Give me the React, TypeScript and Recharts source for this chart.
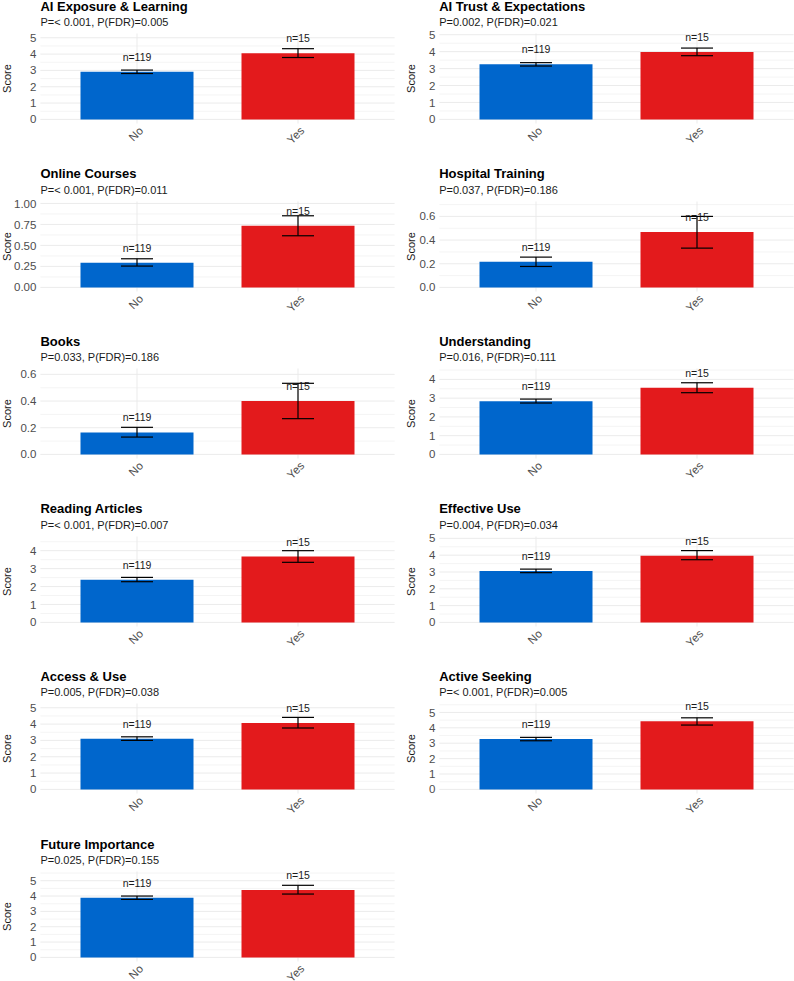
import {
  BarChart,
  Bar,
  XAxis,
  YAxis,
  CartesianGrid,
  ErrorBar,
  LabelList,
  Cell,
  Label,
} from 'recharts'

const FONT = '"Liberation Sans", Arial, Helvetica, sans-serif'

const groups = ['No', 'Yes']
const groupN = ['n=119', 'n=15']
const groupColors = ['#0066CC', '#E31A1C']

const titles = [
  'AI Exposure & Learning',
  'AI Trust & Expectations',
  'Online Courses',
  'Hospital Training',
  'Books',
  'Understanding',
  'Reading Articles',
  'Effective Use',
  'Access & Use',
  'Active Seeking',
  'Future Importance',
]

const pLabels = [
  'P=< 0.001, P(FDR)=0.005',
  'P=0.002, P(FDR)=0.021',
  'P=< 0.001, P(FDR)=0.011',
  'P=0.037, P(FDR)=0.186',
  'P=0.033, P(FDR)=0.186',
  'P=0.016, P(FDR)=0.111',
  'P=< 0.001, P(FDR)=0.007',
  'P=0.004, P(FDR)=0.034',
  'P=0.005, P(FDR)=0.038',
  'P=< 0.001, P(FDR)=0.005',
  'P=0.025, P(FDR)=0.155',
]

// group means with lower / upper ends of the error bars
const noMean = [2.92, 3.25, 0.294, 0.217, 0.165, 2.83, 2.38, 3.06, 3.1, 3.27, 3.89]
const noLow = [2.81, 3.15, 0.254, 0.177, 0.13, 2.74, 2.27, 2.96, 3.0, 3.16, 3.78]
const noHigh = [3.02, 3.35, 0.341, 0.256, 0.203, 2.95, 2.51, 3.17, 3.22, 3.38, 4.0]
const yesMean = [4.05, 3.98, 0.734, 0.468, 0.4, 3.56, 3.67, 3.97, 4.06, 4.42, 4.39]
const yesLow = [3.79, 3.76, 0.615, 0.332, 0.268, 3.29, 3.35, 3.73, 3.76, 4.18, 4.13]
const yesHigh = [4.33, 4.21, 0.853, 0.6, 0.533, 3.82, 4.0, 4.27, 4.41, 4.65, 4.7]

// axis upper limits and tick values per panel
const yMax = [5.26, 5.07, 1.023, 0.726, 0.644, 4.58, 4.79, 5.11, 5.26, 5.58, 5.6]
const intTicks = [0, 1, 2, 3, 4, 5]
const yTicks = [
  intTicks,
  intTicks,
  [0, 0.25, 0.5, 0.75, 1],
  [0, 0.2, 0.4, 0.6],
  [0, 0.2, 0.4, 0.6],
  [0, 1, 2, 3, 4],
  [0, 1, 2, 3, 4],
  intTicks,
  intTicks,
  intTicks,
  intTicks,
]
const yDecimals = [0, 0, 2, 1, 1, 0, 0, 0, 0, 0, 0]

const PANEL_W = 397
const PANEL_H = 160
const COL_X = [0, 398.8]
const ROW_STEP = 167.6

function GroupTick(props: any) {
  const { x, y, payload } = props
  const tx = x + 7
  const ty = y + 8
  return (
    <text
      x={tx}
      y={ty}
      textAnchor="end"
      transform={`rotate(-45 ${tx} ${ty})`}
      fontSize={11.5}
      fill="#4d4d4d"
      fontFamily={FONT}
    >
      {payload.value}
    </text>
  )
}

function Panel({ i }: { i: number }) {
  const col = i % 2
  const row = Math.floor(i / 2)
  const hi = yMax[i]
  const lo = -hi / 21
  const ticks = yTicks[i]
  const step = ticks[1] - ticks[0]
  const minors: number[] = []
  for (let k = 0; k < ticks.length; k++) {
    const m = ticks[k] + step / 2
    if (m <= hi) minors.push(m)
  }

  const means = [noMean[i], yesMean[i]]
  const lows = [noLow[i], yesLow[i]]
  const highs = [noHigh[i], yesHigh[i]]
  const data = groups.map((g, k) => ({
    group: g,
    mean: means[k],
    err: [means[k] - lows[k], highs[k] - means[k]],
    n: groupN[k],
  }))

  const scoreX = col ? 11.5 : 6.5

  return (
    <div
      style={{
        position: 'absolute',
        left: COL_X[col],
        top: 6 + ROW_STEP * row - 8,
        width: PANEL_W,
        height: PANEL_H,
      }}
    >
      <div
        style={{
          position: 'absolute',
          left: 40.4,
          top: 0.5,
          fontSize: 13,
          lineHeight: '15px',
          fontWeight: 700,
          color: '#000',
          whiteSpace: 'nowrap',
        }}
      >
        {titles[i]}
      </div>
      <div
        style={{
          position: 'absolute',
          left: 40.4,
          top: 18,
          fontSize: 11,
          lineHeight: '13px',
          color: '#1a1a1a',
          whiteSpace: 'nowrap',
        }}
      >
        {pLabels[i]}
      </div>
      <BarChart
        width={PANEL_W}
        height={PANEL_H}
        data={data}
        margin={{ top: 35.5, right: 2.4, bottom: 4.5, left: 0 }}
        style={{ position: 'absolute', left: 0, top: 0 }}
      >
        {/* minor gridlines halfway between the major ticks */}
        <CartesianGrid
          vertical={false}
          horizontalValues={minors}
          syncWithTicks
          stroke="#f1f1f1"
          strokeWidth={0.8}
        />
        <CartesianGrid horizontal vertical syncWithTicks stroke="#e9e9e9" strokeWidth={0.9} />
        <XAxis
          dataKey="group"
          height={30}
          padding={{ left: 16.1, right: 16.1 }}
          axisLine={false}
          tickLine={false}
          tickSize={0}
          tickMargin={0}
          interval={0}
          tick={<GroupTick />}
        />
        <YAxis
          width={40.4}
          domain={[lo, hi]}
          ticks={ticks}
          type="number"
          allowDataOverflow
          interval={0}
          axisLine={false}
          tickLine={false}
          tickSize={0}
          tickMargin={4}
          tick={{ fontSize: 11.5, fill: '#4d4d4d', fontFamily: FONT }}
          tickFormatter={(v: number) => v.toFixed(yDecimals[i])}
        >
          <Label
            content={(p: any) => {
              const vb = p.viewBox || { y: 35.5, height: 90 }
              const cy = vb.y + vb.height / 2
              return (
                <text
                  x={scoreX}
                  y={cy}
                  transform={`rotate(-90 ${scoreX} ${cy})`}
                  textAnchor="middle"
                  dominantBaseline="central"
                  fontSize={11}
                  fill="#1a1a1a"
                  fontFamily={FONT}
                >
                  Score
                </text>
              )
            }}
          />
        </YAxis>
        <Bar dataKey="mean" barSize={113} isAnimationActive={false}>
          {data.map((d, k) => (
            <Cell key={d.group} fill={groupColors[k]} />
          ))}
          <ErrorBar dataKey="err" direction="y" width={16} stroke="#000" strokeWidth={1.2} />
          <LabelList
            dataKey="n"
            position="top"
            offset={11}
            fill="#1a1a1a"
            fontSize={10.5}
            fontFamily={FONT}
          />
        </Bar>
      </BarChart>
    </div>
  )
}

export default function App() {
  return (
    <div
      style={{
        position: 'absolute',
        left: 0,
        top: 0,
        width: 794,
        height: 981,
        overflow: 'hidden',
        background: '#fff',
        fontFamily: FONT,
      }}
    >
      {titles.map((t, i) => (
        <Panel key={t} i={i} />
      ))}
    </div>
  )
}
